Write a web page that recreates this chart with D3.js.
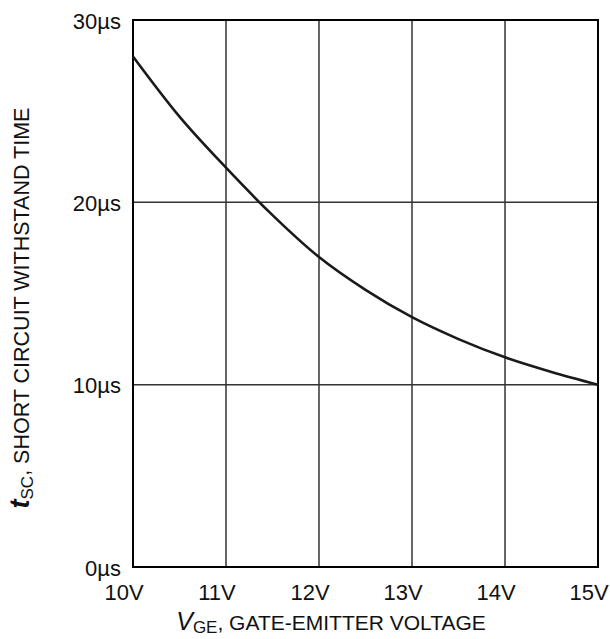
<!DOCTYPE html>
<html><head><meta charset="utf-8">
<script src="https://cdn.jsdelivr.net/npm/d3@7/dist/d3.min.js"></script>
<style>body{margin:0;background:#fff}svg{display:block;font-family:"Liberation Sans",Arial,sans-serif}</style>
</head><body>
<svg id="c" width="610" height="639"></svg>
<script>
const vge = [10, 10.5, 11, 11.5, 12, 12.5, 13, 13.5, 14, 14.5, 15];
const tsc = [28.0, 24.7, 21.9, 19.3, 17.0, 15.2, 13.7, 12.5, 11.5, 10.7, 10.0];
const xTicks = [10, 11, 12, 13, 14, 15];
const xTickLabels = ["10V", "11V", "12V", "13V", "14V", "15V"];
const yTicks = [0, 10, 20, 30];
const yTickLabels = ["0µs", "10µs", "20µs", "30µs"];

const svg = d3.select("#c");
const L = 133, R = 598, T = 20, B = 567;
const x = d3.scaleLinear().domain([10, 15]).range([L, R]);
const y = d3.scaleLinear().domain([0, 30]).range([B, T]);

// grid
svg.append("g").selectAll("line").data(xTicks).join("line")
  .attr("x1", d => x(d)).attr("x2", d => x(d)).attr("y1", T).attr("y2", B)
  .attr("stroke", "#333").attr("stroke-width", 1.5);
svg.append("g").selectAll("line").data(yTicks).join("line")
  .attr("y1", d => y(d)).attr("y2", d => y(d)).attr("x1", L).attr("x2", R)
  .attr("stroke", "#333").attr("stroke-width", 1.5);
svg.append("rect").attr("x", L).attr("y", T).attr("width", R - L).attr("height", B - T)
  .attr("fill", "none").attr("stroke", "#000").attr("stroke-width", 2);

// curve
const line = d3.line().x((d, i) => x(vge[i])).y(d => y(d)).curve(d3.curveMonotoneX);
svg.append("path").attr("d", line(tsc)).attr("fill", "none")
  .attr("stroke", "#1a1a1a").attr("stroke-width", 2.6);

// y tick labels
svg.append("g").selectAll("text").data(yTicks).join("text")
  .attr("x", 121).attr("y", d => y(d) + 8.5)
  .attr("text-anchor", "end").attr("font-size", 22).attr("fill", "#111")
  .text((d, i) => yTickLabels[i]);
// x tick labels
svg.append("g").selectAll("text").data(xTicks).join("text")
  .attr("x", d => x(d) - 9).attr("y", 600)
  .attr("text-anchor", "middle").attr("font-size", 22).attr("fill", "#111")
  .text((d, i) => xTickLabels[i]);

// x title
const xt = svg.append("text").attr("x", 331).attr("y", 630).attr("text-anchor", "middle")
  .attr("font-size", 21).attr("fill", "#111");
xt.append("tspan").attr("font-style", "italic").attr("font-size", 25).text("V");
xt.append("tspan").attr("font-size", 17).attr("dy", 3).text("GE");
xt.append("tspan").attr("dy", -3).text(", GATE-EMITTER VOLTAGE");

// y title
const yt = svg.append("text").attr("transform", "translate(28.5,308) rotate(-90)")
  .attr("text-anchor", "middle").attr("font-size", 21.5).attr("fill", "#111");
yt.append("tspan").attr("font-style", "italic").attr("font-weight", "bold").attr("font-size", 27).text("t");
yt.append("tspan").attr("font-size", 17).attr("dy", 4).text("SC");
yt.append("tspan").attr("dy", -4).text(",  SHORT CIRCUIT WITHSTAND TIME");
</script>
</body></html>
